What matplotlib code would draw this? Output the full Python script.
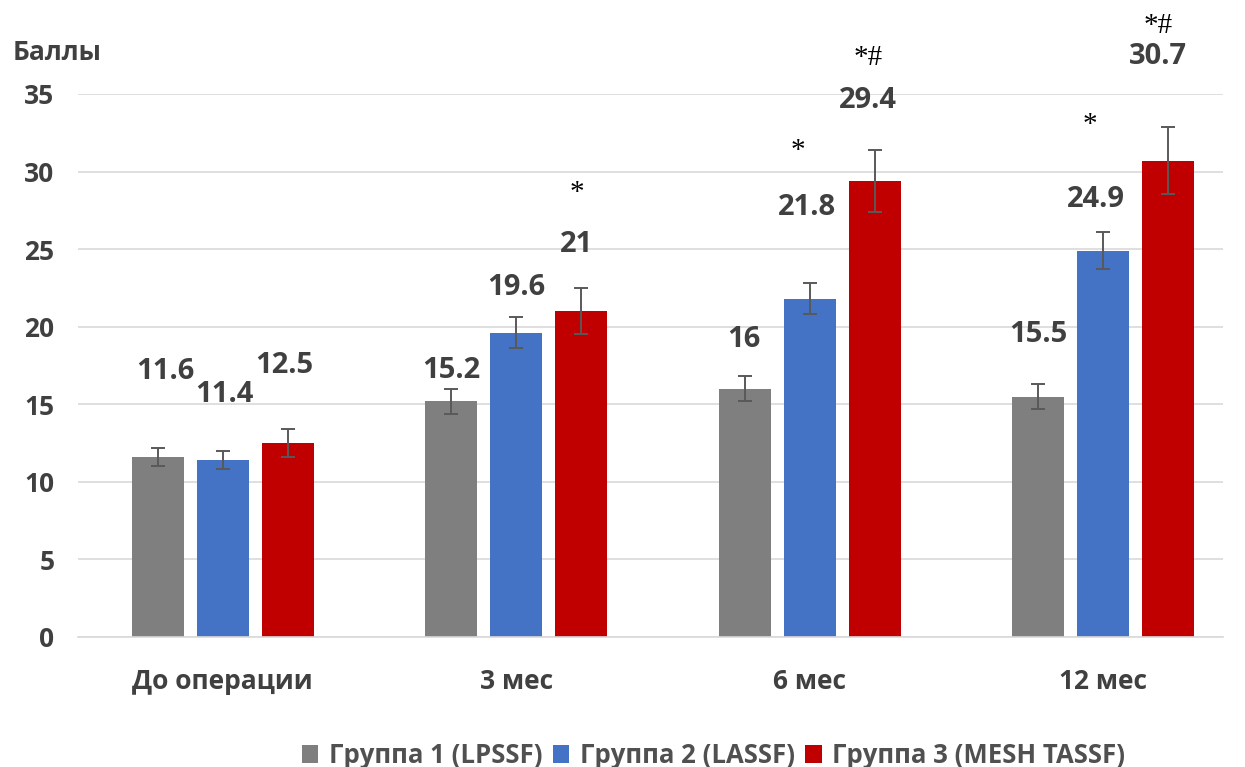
import numpy as np
import matplotlib
matplotlib.use("Agg")
from matplotlib import pyplot as plt

plt.rcParams['font.family'] = ['Open Sans', 'DejaVu Sans']

periods = ["До операции", "3 мес", "6 мес", "12 мес"]
groups = ["Группа 1 (LPSSF)", "Группа 2 (LASSF)", "Группа 3 (MESH TASSF)"]
colors = ["#7f7f7f", "#4472c4", "#c00000"]

# mean scores per group, one value per period
scores = [
    [11.6, 15.2, 16.0, 15.5],
    [11.4, 19.6, 21.8, 24.9],
    [12.5, 21.0, 29.4, 30.7],
]
errors = [
    [0.6, 0.8, 0.8, 0.8],
    [0.6, 1.0, 1.0, 1.2],
    [0.9, 1.5, 2.0, 2.15],
]
value_text = [
    ["11.6", "15.2", "16", "15.5"],
    ["11.4", "19.6", "21.8", "24.9"],
    ["12.5", "21", "29.4", "30.7"],
]
# significance marks: * vs group 1, # vs group 2
marks = [
    ["", "", "", ""],
    ["", "", "*", "*"],
    ["", "*", "*#", "*#"],
]

# hand-placed label positions (x shift from group centre, y in score units)
label_dx = [
    [-0.195, -0.221, -0.225, -0.22],
    [0.007, 0.0, -0.01, -0.024],
    [0.21, 0.207, 0.20, 0.187],
]
label_y = [
    [17.1, 17.2, 19.2, 19.5],
    [15.6, 22.5, 27.7, 28.2],
    [17.5, 25.3, 34.6, 37.4],
]
mark_dx = [
    [0, 0, 0, 0],
    [0, 0, -0.04, -0.044],
    [0, 0.207, 0.20, 0.187],
]
mark_y = [
    [0, 0, 0, 0],
    [0, 0, 31.3, 33.0],
    [0, 28.6, 37.3, 39.4],
]

txt = "#404040"
fig = plt.figure(figsize=(12.45, 7.67), dpi=100)
ax = fig.add_axes([0.0627, 0.1695, 0.92, 0.708])

x = np.arange(len(periods))
width = 0.177
step = 0.221
for i in range(3):
    pos = x + (i - 1) * step
    ax.bar(pos, scores[i], width, color=colors[i], label=groups[i], zorder=2)
    ax.errorbar(pos, scores[i], yerr=errors[i], fmt="none", ecolor="#595959",
                elinewidth=1.4, capsize=5, capthick=1.4, zorder=3)
    for j in range(len(periods)):
        ax.text(x[j] + label_dx[i][j], label_y[i][j], value_text[i][j],
                ha="center", va="center", fontsize=21, fontweight="bold",
                color=txt, clip_on=False)
        if marks[i][j]:
            ax.text(x[j] + mark_dx[i][j], mark_y[i][j], marks[i][j],
                    ha="center", va="center", fontsize=21,
                    family="Liberation Serif", color="black", clip_on=False)

ax.set_xlim(-0.493, 3.41)
ax.set_ylim(0, 35)
ax.set_yticks(range(0, 36, 5))
ax.set_xticks(x)
ax.set_xticklabels(periods)
ax.yaxis.grid(True, color="#d9d9d9", linewidth=1.2, zorder=0)
ax.set_axisbelow(True)
for s in ax.spines.values():
    s.set_visible(False)
ax.spines["bottom"].set_visible(True)
ax.spines["bottom"].set_color("#d9d9d9")
ax.spines["bottom"].set_linewidth(1.2)
ax.tick_params(length=0, labelsize=19, labelcolor=txt)
ax.tick_params(axis="x", pad=22)
ax.tick_params(axis="y", pad=17)
for lab in ax.get_xticklabels() + ax.get_yticklabels():
    lab.set_fontweight("bold")

fig.text(0.01, 0.932, "Баллы", fontsize=19, fontweight="bold", color=txt,
         va="center", ha="left")

fig.legend(loc="center", bbox_to_anchor=(0.573, 0.015), ncol=3, frameon=False,
           handlelength=0.66, handleheight=0.66, handletextpad=0.4,
           columnspacing=0.4, prop={"size": 18.5, "weight": "bold"},
           labelcolor="#505050")

fig.savefig("out.png", dpi=100)
